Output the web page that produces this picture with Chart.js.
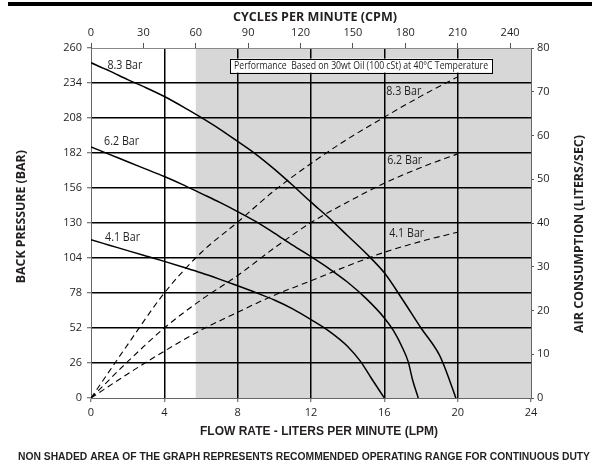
<!DOCTYPE html>
<html>
<head>
<meta charset="utf-8">
<script src="https://cdn.jsdelivr.net/npm/chart.js@4.4.1/dist/chart.umd.min.js"></script>
<style>
  html, body { margin: 0; padding: 0; background: #fff; }
  canvas { display: block; }
</style>
</head>
<body>
<canvas id="chart" width="595" height="464"></canvas>
<script>
// ---- Pump performance data ----
// Back pressure (bar) against flow rate (LPM), one curve per inlet air pressure
const bp83Flow = [0, 1, 2, 3, 4, 5, 6, 7, 8, 9, 10, 11, 12, 13, 14, 15, 16, 17, 18, 19, 19.4, 19.9];
const bp83Bar  = [249, 243, 236.5, 230.5, 224, 216.5, 208.5, 200, 190.6, 181, 170, 158, 145.5, 133.5, 120.5, 107.5, 93, 73, 52, 32, 19, 0];

const bp62Flow = [0, 1, 2, 3, 4, 5, 6, 7, 8, 9, 10, 11, 12, 13, 14, 15, 16, 16.5, 17, 17.3, 17.55, 17.85];
const bp62Bar  = [186.5, 181, 175.5, 170, 164.5, 158.5, 152, 145.5, 138.5, 131, 122.5, 113.5, 105, 96, 86, 74, 59.5, 50, 37, 27, 13, 0];

const bp41Flow = [0, 1, 2, 3, 4, 5, 6, 7, 8, 9, 10, 11, 12, 13, 14, 14.7, 15.3, 16];
const bp41Bar  = [117.5, 113.5, 109.5, 105.5, 101.5, 97.3, 93, 88.3, 83.4, 78.3, 72.8, 66.2, 58.2, 49.5, 38.3, 27.2, 14.5, 0];

// Air consumption (liters/sec) against flow rate (LPM)
const airFlow = [0, 2, 4, 6, 8, 10, 12, 14, 16, 18, 20];
const air83   = [0, 12.2, 24, 33.2, 40.2, 47.4, 53.6, 59.2, 64.2, 69, 73.4];
const air62   = [0, 8.3, 16, 22.4, 28, 34.3, 40.1, 44.8, 49.1, 52.7, 55.8];
const air41   = [0, 5.5, 10.7, 15.5, 19.6, 23.5, 26.8, 30.2, 33.3, 35.8, 37.9];

// Axis ranges and tick steps
const flowRange = [0, 24],  flowStep = 4;
const cpmRange = [0, 252],  cpmStep = 30;
const barRange = [0, 260],  barStep = 26;
const airRange = [0, 80],   airStep = 10;

// Shaded (non-continuous-duty) region begins at this cycle rate
const shadeFromCpm = 60;

// Text
const topTitle = 'CYCLES PER MINUTE (CPM)';
const bottomTitle = 'FLOW RATE - LITERS PER MINUTE (LPM)';
const leftTitle = 'BACK PRESSURE (BAR)';
const rightTitle = 'AIR CONSUMPTION (LITERS/SEC)';
const footNote = 'NON SHADED AREA OF THE GRAPH REPRESENTS RECOMMENDED OPERATING RANGE FOR CONTINUOUS DUTY';
const oilNote = 'Performance  Based on 30wt Oil (100 cSt) at 40\u00B0C Temperature';

// Curve label anchors, in flow (LPM) / back-pressure (bar) units
const curveLabels = [
  { text: '8.3 Bar', flow: 1.85, bar: 247.8 },
  { text: '6.2 Bar', flow: 1.67, bar: 191.5 },
  { text: '4.1 Bar', flow: 1.72, bar: 120.1 },
  { text: '8.3 Bar', flow: 17.06, bar: 228.3 },
  { text: '6.2 Bar', flow: 17.11, bar: 177.0 },
  { text: '4.1 Bar', flow: 17.22, bar: 122.6 }
];
const oilNoteAnchor = { flow: 14.73, bar: 246.9 };

// ---- Drawing ----
const pts = (xs, ys) => xs.map((x, i) => ({ x, y: ys[i] }));
const TEXT = '#231f20';
const SANS = "'Open Sans', 'Noto Sans', sans-serif";
const ARIAL = "'Liberation Sans', Arial, sans-serif";

function solid(label, data) {
  return { label, data, yAxisID: 'y', xAxisID: 'x', showLine: true, pointRadius: 0,
           borderColor: '#000', borderWidth: 1.5, cubicInterpolationMode: 'monotone', fill: false };
}
function dashed(label, data) {
  return { label, data, yAxisID: 'y2', xAxisID: 'x', showLine: true, pointRadius: 0,
           borderColor: '#000', borderWidth: 1.1, borderDash: [6, 4],
           cubicInterpolationMode: 'monotone', fill: false };
}

// Draw a line of text squeezed/stretched horizontally to a set width
function fitText(ctx, text, x, y, font, width, rotation, align) {
  ctx.save();
  ctx.font = font;
  const w = ctx.measureText(text).width;
  ctx.translate(x, y);
  if (rotation) ctx.rotate(rotation);
  ctx.scale(width / w, 1);
  ctx.textAlign = align || 'center';
  ctx.textBaseline = 'alphabetic';
  ctx.fillStyle = TEXT;
  ctx.fillText(text, 0, 0);
  ctx.restore();
}

const edgeColor = (lo, hi) => (c) => (c.tick && (c.tick.value === lo || c.tick.value === hi)) ? 'rgba(0,0,0,0)' : '#000';

const decorations = {
  id: 'decorations',
  beforeDraw(chart) {
    const { ctx, chartArea: a, scales } = chart;
    ctx.save();
    ctx.fillStyle = '#fff';
    ctx.fillRect(0, 0, chart.width, chart.height);
    const x0 = scales.x2.getPixelForValue(shadeFromCpm);
    ctx.fillStyle = '#d7d7d7';
    ctx.fillRect(x0, a.top, a.right - x0, a.bottom - a.top);
    ctx.restore();
  },
  afterDatasetsDraw(chart) {
    const { ctx, scales } = chart;
    const sx = scales.x, sy = scales.y;
    curveLabels.forEach(l => {
      fitText(ctx, l.text, sx.getPixelForValue(l.flow), sy.getPixelForValue(l.bar) + 4.3,
              '12px ' + SANS, 35);
    });
    // oil / temperature note box
    const cx = sx.getPixelForValue(oilNoteAnchor.flow);
    const cy = sy.getPixelForValue(oilNoteAnchor.bar);
    ctx.save();
    ctx.fillStyle = '#fff';
    ctx.fillRect(cx - 131, cy - 7, 262, 14);
    ctx.strokeStyle = '#000';
    ctx.lineWidth = 1;
    ctx.strokeRect(Math.round(cx - 131) + 0.5, Math.round(cy - 7) + 0.5, 262, 14);
    ctx.restore();
    fitText(ctx, oilNote, cx, cy + 3.8, '10.5px ' + SANS, 254);
  },
  afterDraw(chart) {
    const { ctx } = chart;
    ctx.save();
    ctx.fillStyle = '#000';
    ctx.fillRect(8, 2, 584, 4);
    ctx.restore();
    fitText(ctx, topTitle, 315, 21, 'bold 11.5px ' + SANS, 164);
    fitText(ctx, bottomTitle, 319, 435.3, 'bold 13.5px ' + ARIAL, 238);
    fitText(ctx, footNote, 304, 460, 'bold 11.6px ' + ARIAL, 572);
    fitText(ctx, leftTitle, 25, 216.7, 'bold 12.5px ' + SANS, 133, -Math.PI / 2);
    fitText(ctx, rightTitle, 583.3, 234, 'bold 12.5px ' + SANS, 198, -Math.PI / 2);
  }
};

const tickFont = { family: SANS, size: 11 };

new Chart(document.getElementById('chart'), {
  type: 'scatter',
  data: {
    datasets: [
      solid('8.3 Bar back pressure', pts(bp83Flow, bp83Bar)),
      solid('6.2 Bar back pressure', pts(bp62Flow, bp62Bar)),
      solid('4.1 Bar back pressure', pts(bp41Flow, bp41Bar)),
      dashed('8.3 Bar air', pts(airFlow, air83)),
      dashed('6.2 Bar air', pts(airFlow, air62)),
      dashed('4.1 Bar air', pts(airFlow, air41))
    ]
  },
  options: {
    responsive: false,
    animation: false,
    devicePixelRatio: 1,
    layout: { padding: 0 },
    plugins: { legend: { display: false }, tooltip: { enabled: false }, title: { display: false } },
    scales: {
      x: {
        type: 'linear', position: 'bottom', min: flowRange[0], max: flowRange[1],
        afterFit: s => { s.height = 66; },
        ticks: { stepSize: flowStep, font: tickFont, color: TEXT, padding: 4, maxRotation: 0 },
        grid: { color: edgeColor(flowRange[0], flowRange[1]), lineWidth: 1.5, tickLength: 4, tickColor: '#555', tickWidth: 1 },
        border: { display: true, color: '#666', width: 1 }
      },
      x2: {
        type: 'linear', axis: 'x', position: 'top', min: cpmRange[0], max: cpmRange[1],
        afterFit: s => { s.height = 48; },
        ticks: { stepSize: cpmStep, includeBounds: false, font: tickFont, color: TEXT, padding: 4, maxRotation: 0 },
        grid: { drawOnChartArea: false, tickLength: 5, tickColor: '#555', tickWidth: 1 },
        border: { display: true, color: '#888', width: 1 }
      },
      y: {
        type: 'linear', position: 'left', min: barRange[0], max: barRange[1],
        afterFit: s => { s.width = 91; },
        ticks: { stepSize: barStep, font: tickFont, color: TEXT, padding: 5 },
        grid: { color: edgeColor(barRange[0], barRange[1]), lineWidth: 1.5, tickLength: 4, tickColor: '#555', tickWidth: 1 },
        border: { display: true, color: '#666', width: 1 }
      },
      y2: {
        type: 'linear', axis: 'y', position: 'right', min: airRange[0], max: airRange[1],
        afterFit: s => { s.width = 64; },
        ticks: { stepSize: airStep, font: tickFont, color: TEXT, padding: 3 },
        grid: { drawOnChartArea: false, tickLength: 3, tickColor: '#555', tickWidth: 1 },
        border: { display: true, color: '#666', width: 1 }
      }
    }
  },
  plugins: [decorations]
});
</script>
</body>
</html>
